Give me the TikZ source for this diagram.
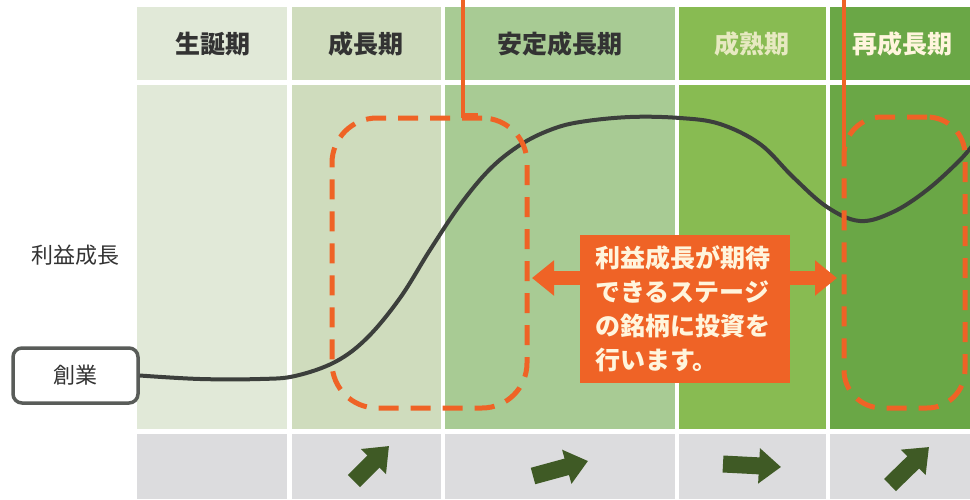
\documentclass[tikz,border=0pt]{standalone}
\usepackage{fontspec}
\newfontfamily\jp{Noto Sans CJK JP}
\usetikzlibrary{arrows.meta,calc}
\definecolor{cA}{HTML}{E1E9D8}
\definecolor{cB}{HTML}{CFDCBD}
\definecolor{cC}{HTML}{A8CB94}
\definecolor{cD}{HTML}{88BB52}
\definecolor{cE}{HTML}{6AA746}
\definecolor{grayrow}{HTML}{DCDCDE}
\definecolor{org}{HTML}{EF6326}
\definecolor{cream}{HTML}{FFF5DD}
\definecolor{dgreen}{HTML}{3F5A25}
\definecolor{txt}{HTML}{333333}
\definecolor{curvec}{HTML}{3C3F3C}
\tikzset{
  head/.style={font=\jp\bfseries\fontsize{25}{28}\selectfont, text=txt},
  headlight/.style={head, text=#1},
  dashbox/.style={draw=org, line width=5pt, dash pattern=on 20pt off 12pt, rounded corners=#1},
  orangeline/.style={draw=org, line width=4.5pt},
  curve/.style={draw=curvec, line width=4pt},
  sbox/.style={draw=curvec!85, line width=3.5pt, rounded corners=9pt, fill=white, minimum width=125pt, minimum height=55pt, font=\jp\fontsize{22}{26}\selectfont, text=txt},
  msgbox/.style={fill=org, text=cream, minimum width=210pt, minimum height=148pt, text width=180pt, align=left, font=\jp\bfseries\fontsize{25}{34}\selectfont},
  dblarrow/.style={draw=org, line width=14pt, {Triangle[length=22pt,width=34pt]}-{Triangle[length=22pt,width=34pt]}},
  trend/.style={draw=dgreen, line width=17pt, -{Triangle[length=22pt,width=34pt]}}
}
\begin{document}
\begin{tikzpicture}[x=1pt,y=-1pt]
\useasboundingbox (0,0) rectangle (970,499);
\fill[white] (0,0) rectangle (970,499);
% header row
\fill[cA] (137,7) rectangle (287,80);
\fill[cB] (292,7) rectangle (441,80);
\fill[cC] (445,7) rectangle (675,80);
\fill[cD] (679,7) rectangle (826,80);
\fill[cE] (830,7) rectangle (970,80);
% main area
\fill[cA] (137,85) rectangle (287,429);
\fill[cB] (292,85) rectangle (441,429);
\fill[cC] (445,85) rectangle (675,429);
\fill[cD] (679,85) rectangle (826,429);
\fill[cE] (830,85) rectangle (970,429);
% bottom row
\fill[grayrow] (137,434) rectangle (287,499);
\fill[grayrow] (292,434) rectangle (441,499);
\fill[grayrow] (445,434) rectangle (675,499);
\fill[grayrow] (679,434) rectangle (826,499);
\fill[grayrow] (830,434) rectangle (970,499);
% headers
\node[head] (h1) at (213,44) {生誕期};
\node[head] (h2) at (366,44) {成長期};
\node[head] (h3) at (560,44) {安定成長期};
\node[headlight=cream!80!cD] (h4) at (752,44) {成熟期};
\node[headlight=cream] (h5) at (902,44) {再成長期};
% left labels
\node[font=\jp\fontsize{22}{26}\selectfont, text=txt] (lbl) at (75,255) {利益成長};
\node[sbox] (sogyo) at (75.5,375.5) {創業};
% curve
\draw[curve] plot[smooth, tension=0.6] coordinates {(sogyo.east) (200,379) (260,379) (295,376) (335,362) (367,338) (400,298) (430,250) (460,205) (490,169) (520,145) (550,130) (580,122) (630,117) (680,118) (720,124) (760,144) (793,177) (827,207) (860,221) (893,212) (927,190) (960,160) (975,142)};
% dashed boxes
\node[dashbox=45pt, minimum width=195pt, minimum height=290pt] (b1) at (429.5,263) {};
\node[dashbox=38pt, minimum width=121pt, minimum height=291pt] (b2) at (904.5,262.5) {};
% orange lines from top
\coordinate (t1) at (463,0);
\coordinate (t2) at (844,0);
\draw[orangeline] (t1) -- (t1 |- b1.north) -- ++(15,0);
\draw[orangeline] (t2) -- ($(t2 |- b2.north)+(0,33)$);
% double arrow and message
\coordinate (aL) at (532,278);
\coordinate (aR) at (837,278);
\draw[dblarrow] (aL) -- (aR);
\node[msgbox] (msg) at (685,309) {利益成長が期待\\できるステージ\\の銘柄に投資を\\行います。};
% bottom trend arrows
\coordinate (p1) at (354,481); \coordinate (q1) at (389,446);
\coordinate (p2) at (533,476); \coordinate (q2) at (588,461);
\coordinate (p3) at (723,464); \coordinate (q3) at (781,467);
\coordinate (p4) at (890,485); \coordinate (q4) at (929,447);
\draw[trend] (p1) -- (q1);
\draw[trend] (p2) -- (q2);
\draw[trend] (p3) -- (q3);
\draw[trend] (p4) -- (q4);
\end{tikzpicture}
\end{document}
